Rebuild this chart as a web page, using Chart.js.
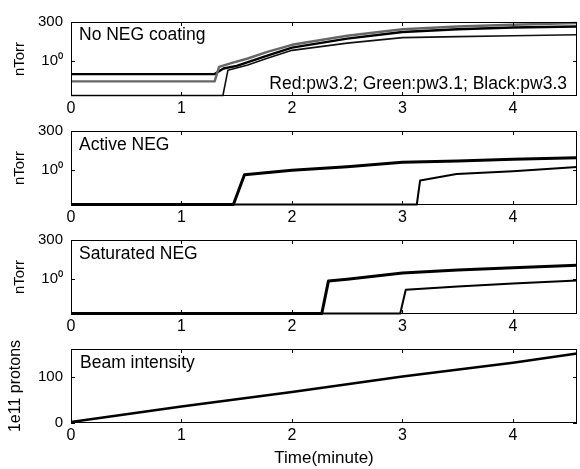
<!DOCTYPE html>
<html>
<head>
<meta charset="utf-8">
<script src="https://cdn.jsdelivr.net/npm/chart.js@4.4.1/dist/chart.umd.min.js"></script>
<style>
  html, body { margin: 0; padding: 0; background: #fff; }
  #wrap { position: relative; width: 580px; height: 469px; overflow: hidden; }
  canvas { position: absolute; left: 0; }
</style>
</head>
<body>
<div id="wrap">
  <canvas id="noNeg" width="580" height="120" style="top:5px"></canvas>
  <canvas id="activeNeg" width="580" height="120" style="top:114px"></canvas>
  <canvas id="satNeg" width="580" height="120" style="top:223px"></canvas>
  <canvas id="beam" width="580" height="137" style="top:332px"></canvas>
</div>
<script>
// eje x: tiempo en minutos
const xTicks = [0, 1, 2, 3, 4];
const xMax = 4.58;
// ejes de presion (log)
const logTicks = [1, 300];
const logMin = 0.0065;
const logMax = 300;
// eje de intensidad
const beamTicks = [0, 100];
const beamMax = 162;

// No NEG coating
const noNegGreenT = [0, 1.30, 1.34, 1.45, 1.6, 1.77, 2.0, 2.5, 3.0, 3.5, 4.0, 4.58];
const noNegGreenP = [0.054, 0.054, 0.45, 0.77, 1.5, 3.8, 11, 41, 104, 155, 200, 260];
const noNegBlackT = [0, 1.30, 1.38, 1.5, 1.77, 2.0, 2.5, 3.0, 3.5, 4.0, 4.58];
const noNegBlackP = [0.156, 0.156, 0.35, 0.52, 2.2, 7.3, 27, 70, 104, 135, 155];
const noNegRedT = [0, 1.375, 1.42, 1.6, 1.77, 2.0, 2.5, 3.0, 3.5, 4.0, 4.58];
const noNegRedP = [0.007, 0.007, 0.27, 0.59, 1.5, 4.9, 14, 31, 36, 41, 47];

// Active NEG
const activeAT = [0, 1.47, 1.57, 2.0, 2.5, 3.0, 3.5, 4.0, 4.58];
const activeAP = [0.007, 0.007, 0.52, 1.0, 1.7, 3.2, 3.9, 4.9, 6.2];
const activeBT = [0, 3.13, 3.16, 3.49, 4.0, 4.58];
const activeBP = [0.007, 0.007, 0.23, 0.59, 0.88, 1.6];

// Saturated NEG
const satAT = [0, 2.27, 2.33, 2.5, 3.0, 3.5, 4.0, 4.58];
const satAP = [0.007, 0.007, 0.77, 1.0, 2.5, 3.9, 5.4, 7.6];
const satBT = [0, 2.98, 3.03, 3.5, 4.0, 4.58];
const satBP = [0.007, 0.007, 0.22, 0.35, 0.54, 0.84];

// Beam intensity
const beamT = [0, 1, 2, 3, 4, 4.58];
const beamV = [2, 36, 68, 102, 132, 152];

const fuente = '"Liberation Sans", Arial, Helvetica, sans-serif';

const pts = (t, v) => t.map((x, i) => ({ x: x, y: v[i] }));

const linea = (t, v, color, ancho) => ({
  data: pts(t, v),
  borderColor: color,
  borderWidth: ancho,
  pointRadius: 0,
  tension: 0,
  fill: false,
  clip: false,
  borderJoinStyle: 'round'
});

// marco tipo matlab con ticks hacia adentro + textos
const marco = {
  id: 'marco',
  afterDatasetsDraw(chart, args, opts) {
    const { ctx, chartArea: a, scales } = chart;
    const x = scales.x, y = scales.y;
    ctx.save();
    ctx.strokeStyle = '#000';
    ctx.lineWidth = 1;
    ctx.strokeRect(a.left + 0.5, a.top + 0.5, a.right - a.left - 1, a.bottom - a.top - 1);
    ctx.beginPath();
    x.ticks.forEach(t => {
      const px = Math.round(x.getPixelForValue(t.value)) + 0.5;
      ctx.moveTo(px, a.bottom); ctx.lineTo(px, a.bottom - 4);
      ctx.moveTo(px, a.top); ctx.lineTo(px, a.top + 4);
    });
    y.ticks.forEach(t => {
      const py = Math.round(y.getPixelForValue(t.value)) + 0.5;
      ctx.moveTo(a.left, py); ctx.lineTo(a.left + 4, py);
      ctx.moveTo(a.right, py); ctx.lineTo(a.right - 4, py);
    });
    ctx.stroke();
    ctx.fillStyle = '#000';
    ctx.font = '17.5px ' + fuente;
    ctx.textBaseline = 'alphabetic';
    (opts.texts || []).forEach(t => {
      if (t.align === 'right') {
        ctx.textAlign = 'right';
        ctx.fillText(t.text, a.right - t.dx, a.top + t.dy);
      } else {
        ctx.textAlign = 'left';
        ctx.fillText(t.text, a.left + t.dx, a.top + t.dy);
      }
    });
    ctx.restore();
  }
};

const creaPanel = (id, datasets, yCfg, texts, xTitle) => {
  const xHeight = xTitle ? 46 : 29;
  return new Chart(document.getElementById(id), {
    type: 'line',
    data: { datasets: datasets },
    options: {
      responsive: false,
      animation: false,
      events: [],
      layout: { padding: { top: 10, right: 3, left: 0, bottom: 0 } },
      plugins: {
        legend: { display: false },
        tooltip: { enabled: false },
        marco: { texts: texts }
      },
      scales: {
        x: {
          type: 'linear',
          min: 0,
          max: xMax,
          grid: { display: false, drawTicks: false },
          border: { display: false },
          afterBuildTicks: s => { s.ticks = xTicks.map(v => ({ value: v })); },
          afterFit: s => { s.height = xHeight; },
          ticks: {
            color: '#000',
            font: { family: fuente, size: 16 },
            padding: 3,
            maxRotation: 0,
            autoSkip: false,
            callback: v => String(v)
          },
          title: xTitle
            ? { display: true, text: xTitle, color: '#000', font: { family: fuente, size: 17 }, padding: { top: 0, bottom: 0 } }
            : { display: false }
        },
        y: {
          type: yCfg.type,
          min: yCfg.min,
          max: yCfg.max,
          grid: { display: false, drawTicks: false },
          border: { display: false },
          afterBuildTicks: s => { s.ticks = yCfg.ticks.map(v => ({ value: v })); },
          afterFit: s => { s.width = 71; },
          ticks: {
            color: '#000',
            font: { family: fuente, size: 15 },
            padding: 8,
            callback: yCfg.fmt
          },
          title: {
            display: true,
            text: yCfg.title,
            color: '#000',
            font: { family: fuente, size: yCfg.titleSize },
            padding: { top: yCfg.titlePad, bottom: 0 }
          }
        }
      }
    },
    plugins: [marco]
  });
};

const ejeLog = {
  type: 'logarithmic', min: logMin, max: logMax, ticks: logTicks,
  fmt: v => (v === 1 ? '10\u2070' : String(v)),
  title: 'nTorr', titleSize: 15, titlePad: 11
};

creaPanel('noNeg', [
  linea(noNegRedT, noNegRedP, '#111', 1.6),
  linea(noNegGreenT, noNegGreenP, '#666', 2.4),
  linea(noNegBlackT, noNegBlackP, '#000', 2.4)
], ejeLog, [
  { text: 'No NEG coating', dx: 8, dy: 18 },
  { text: 'Red:pw3.2; Green:pw3.1; Black:pw3.3', dx: 10, dy: 67, align: 'right' }
]);

creaPanel('activeNeg', [
  linea(activeAT, activeAP, '#000', 3),
  linea(activeBT, activeBP, '#000', 2)
], ejeLog, [
  { text: 'Active NEG', dx: 8, dy: 19 }
]);

creaPanel('satNeg', [
  linea(satAT, satAP, '#000', 3),
  linea(satBT, satBP, '#000', 2)
], ejeLog, [
  { text: 'Saturated NEG', dx: 8, dy: 19 }
]);

creaPanel('beam', [
  linea(beamT, beamV, '#000', 2.5)
], {
  type: 'linear', min: 0, max: beamMax, ticks: beamTicks,
  fmt: v => String(v),
  title: '1e11 protons', titleSize: 16, titlePad: 6
}, [
  { text: 'Beam intensity', dx: 9, dy: 19 }
], 'Time(minute)');
</script>
</body>
</html>
